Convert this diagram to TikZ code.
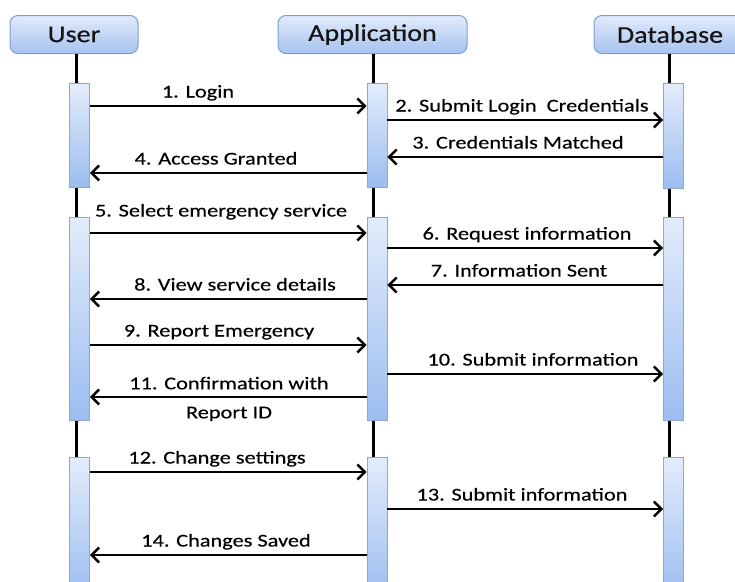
\documentclass[tikz,border=0pt]{standalone}
\usepackage{fontspec}
\setmainfont{Carlito}
\newfontfamily\lblfont{Carlito}[FakeStretch=1.24,FakeBold=0.35]
\newfontfamily\hdrfont{Carlito}[FakeStretch=1.17,FakeBold=0.35]
\usetikzlibrary{arrows.meta}
\definecolor{boxtop}{HTML}{E2EBFB}
\definecolor{boxbot}{HTML}{A6C3F0}
\definecolor{boxedge}{HTML}{7F9DD0}
\definecolor{bartop}{HTML}{E3ECFB}
\definecolor{barbot}{HTML}{9CBDF0}
\definecolor{baredge}{HTML}{8AA7D6}
\begin{document}
\begin{tikzpicture}[x=1pt,y=-1pt,
  actor/.style={draw=boxedge, line width=1pt, rounded corners=8pt,
    top color=boxtop, bottom color=boxbot, minimum height=38pt, inner sep=0pt,
    font=\hdrfont\fontsize{24}{28}\selectfont, text=black!92},
  actbar/.style={draw=baredge, line width=0.8pt, top color=bartop,
    bottom color=barbot, minimum width=20pt, inner sep=0pt, anchor=north},
  life/.style={line width=3pt},
  msg/.style={line width=2.5pt, -{Straight Barb[length=7.5pt,width=15pt]}},
  lbl/.style={font=\lblfont\fontsize{18}{21.6}\selectfont, inner sep=0pt,
    anchor=base, text=black},
]
\useasboundingbox (0,0) rectangle (735,581);
\clip (0,0) rectangle (735,581);

% participants
\node[actor, minimum width=128pt] (uh) at (74,34.5) {User};
\node[actor, minimum width=189pt] (ah) at (372.5,34.5) {Application};
\node[actor, minimum width=152pt] (dh) at (670,34.5) {Database};

% lifeline positions
\coordinate (ul) at (76,0);
\coordinate (al) at (373,0);
\coordinate (dl) at (669.5,0);

% activation bars
\node[actbar, minimum height=104pt] (u1) at (79.5,83) {};
\node[actbar, minimum height=203pt] (u2) at (79.5,217) {};
\node[actbar, minimum height=140pt] (u3) at (79.5,457) {};
\node[actbar, minimum height=104pt] (a1) at (377,83) {};
\node[actbar, minimum height=203pt] (a2) at (377,217) {};
\node[actbar, minimum height=140pt] (a3) at (377,457) {};
\node[actbar, minimum height=105pt] (d1) at (673.5,83) {};
\node[actbar, minimum height=203pt] (d2) at (673.5,217) {};
\node[actbar, minimum height=140pt] (d3) at (673.5,457) {};

% lifelines between header and bars
\foreach \h/\l/\a/\b/\c in {uh/ul/u1/u2/u3, ah/al/a1/a2/a3, dh/dl/d1/d2/d3}{
  \draw[life] (\h.south -| \l) -- (\a.north -| \l);
  \draw[life] (\a.south -| \l) -- (\b.north -| \l);
  \draw[life] (\b.south -| \l) -- (\c.north -| \l);
}

% login
\draw[msg] (u1.east |- 0,106) -- (a1.west |- 0,106)
  node[lbl] at (198,97.5) {1. Login};
\draw[msg] (a1.east |- 0,120) -- (d1.west |- 0,120)
  node[lbl] at (522,111.5) {2. Submit Login\ \ Credentials};
\draw[msg] (d1.west |- 0,157) -- (a1.east |- 0,157)
  node[lbl] at (518,148.5) {3. Credentials Matched};
\draw[msg] (a1.west |- 0,173) -- (u1.east |- 0,173)
  node[lbl] at (216,164.5) {4. Access Granted};

% emergency report
\draw[msg] (u2.east |- 0,233) -- (a2.west |- 0,233)
  node[lbl] at (221,216.5) {5. Select emergency service};
\draw[msg] (a2.east |- 0,248) -- (d2.west |- 0,248)
  node[lbl] at (527,239.5) {6. Request information};
\draw[msg] (d2.west |- 0,285) -- (a2.east |- 0,285)
  node[lbl] at (519,276.5) {7. Information Sent};
\draw[msg] (a2.west |- 0,299) -- (u2.east |- 0,299)
  node[lbl] at (235,290.5) {8. View service details};
\draw[msg] (u2.east |- 0,345) -- (a2.west |- 0,345)
  node[lbl] at (219,336.5) {9. Report Emergency};
\draw[msg] (a2.east |- 0,374) -- (d2.west |- 0,374)
  node[lbl] at (533,365.5) {10. Submit information};
\draw[msg] (a2.west |- 0,397) -- (u2.east |- 0,397)
  node[lbl, anchor=center, align=center] at (229,399)
  {11. Confirmation with\\[7.4pt]Report ID};

% settings
\draw[msg] (u3.east |- 0,472) -- (a3.west |- 0,472)
  node[lbl] at (217,463.5) {12. Change settings};
\draw[msg] (a3.east |- 0,509) -- (d3.west |- 0,509)
  node[lbl] at (522,500.5) {13. Submit information};
\draw[msg] (a3.west |- 0,555) -- (u3.east |- 0,555)
  node[lbl] at (226,546.5) {14. Changes Saved};
\end{tikzpicture}
\end{document}
